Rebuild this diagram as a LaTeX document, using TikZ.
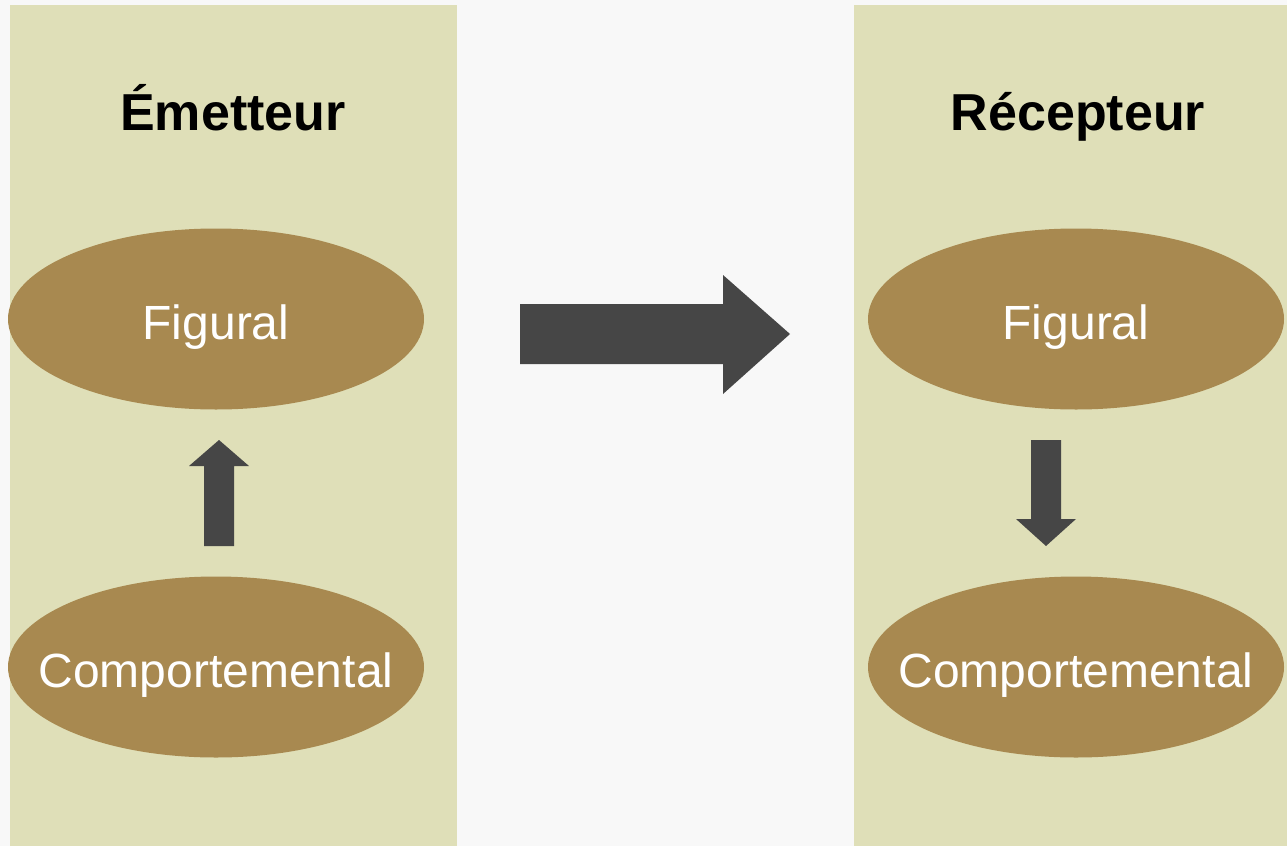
\documentclass[tikz,border=0pt]{standalone}
\usepackage{fontspec}
\setmainfont{Liberation Sans}
\usetikzlibrary{shapes.geometric}
\definecolor{bg}{RGB}{248,248,248}
\definecolor{panel}{RGB}{223,223,184}
\definecolor{oval}{RGB}{168,137,80}
\definecolor{arr}{RGB}{70,70,70}
\begin{document}
\begin{tikzpicture}[x=1pt,y=-1pt,
  panelbox/.style={fill=panel,draw=none},
  ovalnode/.style={ellipse,fill=oval,draw=none,minimum width=416pt,minimum height=181pt,inner sep=0pt},
  ovaltext/.style={anchor=base,inner sep=0pt,text=white,font=\fontsize{48}{56}\selectfont},
  title/.style={anchor=base,inner sep=0pt,font=\fontsize{52}{60}\selectfont\bfseries,text=black},
  blockarrow/.style={fill=arr,draw=none}]
\fill[bg] (0,0) rectangle (1287,846);
\useasboundingbox (0,0) rectangle (1287,846);
\fill[panelbox] (10,5) rectangle (457,846);
\fill[panelbox] (854,5) rectangle (1287,846);
\node[title] (em) at (233,130) {Émetteur};
\node[title] (rec) at (1078,130) {Récepteur};
\node[ovalnode] (lf) at (216,319) {};
\node[ovalnode] (lc) at (216,667) {};
\node[ovalnode] (rf) at (1076,319) {};
\node[ovalnode] (rc) at (1076,667) {};
\node[ovaltext] (lft) at (216,339) {Figural};
\node[ovaltext] (lct) at (216,687) {Comportemental};
\node[ovaltext] (rft) at (1076,339) {Figural};
\node[ovaltext] (rct) at (1076,687) {Comportemental};
% big arrow
\fill[blockarrow] (520,304) -- (723,304) -- (723,275) -- (790,334) -- (723,394) -- (723,364) -- (520,364) -- cycle;
% up arrow
\fill[blockarrow] (204,546) -- (204,466) -- (189,466) -- (219,440) -- (249,466) -- (234,466) -- (234,546) -- cycle;
% down arrow
\fill[blockarrow] (1031,440) -- (1061,440) -- (1061,519) -- (1076,519) -- (1046,546) -- (1016,519) -- (1031,519) -- cycle;
\end{tikzpicture}
\end{document}
